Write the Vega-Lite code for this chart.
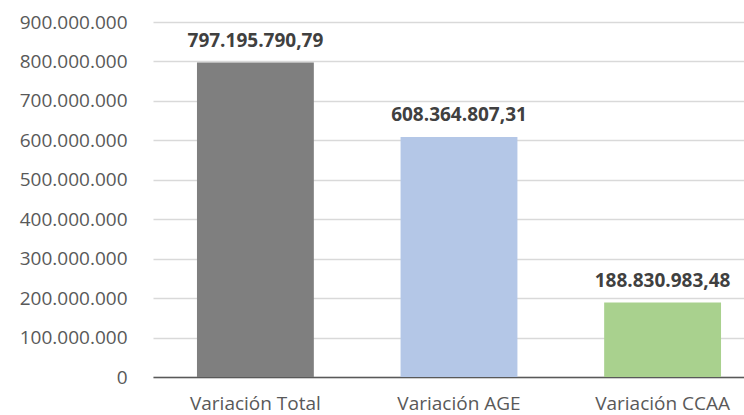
{
  "$schema": "https://vega.github.io/schema/vega-lite/v6.json",
  "autosize": {"type": "none"},
  "width": 591,
  "height": 355,
  "padding": {"left": 153, "top": 22, "right": 0, "bottom": 38},
  "background": "white",
  "config": {
    "locale": {"number": {"decimal": ",", "thousands": ".", "grouping": [3], "currency": ["", " €"]}},
    "view": {"stroke": null},
    "font": "Open Sans"
  },
  "data": {
    "values": [
      {"cat": "Variación Total", "value": 797195790.79},
      {"cat": "Variación AGE", "value": 608364807.31},
      {"cat": "Variación CCAA", "value": 188830983.48}
    ]
  },
  "encoding": {
    "x": {
      "field": "cat", "type": "nominal", "sort": null,
      "scale": {"range": [0, 612], "paddingInner": 0.426, "paddingOuter": 0.216},
      "axis": {"title": null, "labelAngle": 0, "labelFont": "Open Sans", "labelFontSize": 19, "labelColor": "#595959", "ticks": false, "labelPadding": 17, "domainColor": "#595959", "domainWidth": 1.3, "grid": false}
    },
    "y": {
      "field": "value", "type": "quantitative",
      "scale": {"domain": [0, 900000000], "nice": false},
      "axis": {"title": null, "values": [0, 100000000, 200000000, 300000000, 400000000, 500000000, 600000000, 700000000, 800000000, 900000000], "format": ",d", "labelFont": "Open Sans", "labelFontSize": 19, "labelColor": "#595959", "ticks": false, "domain": false, "labelPadding": 26, "gridColor": "#d9d9d9", "gridWidth": 1.3}
    }
  },
  "layer": [
    {
      "mark": {"type": "bar"},
      "encoding": {
        "color": {"field": "cat", "type": "nominal", "sort": null, "legend": null,
          "scale": {"domain": ["Variación Total", "Variación AGE", "Variación CCAA"], "range": ["#7f7f7f", "#b4c7e7", "#a9d18e"]}}
      }
    },
    {
      "mark": {"type": "text", "font": "Open Sans", "fontSize": 19, "fontWeight": "bold", "color": "#404040", "baseline": "alphabetic", "dy": -16},
      "encoding": {
        "text": {"field": "value", "type": "quantitative", "format": ",.2f"}
      }
    }
  ]
}
